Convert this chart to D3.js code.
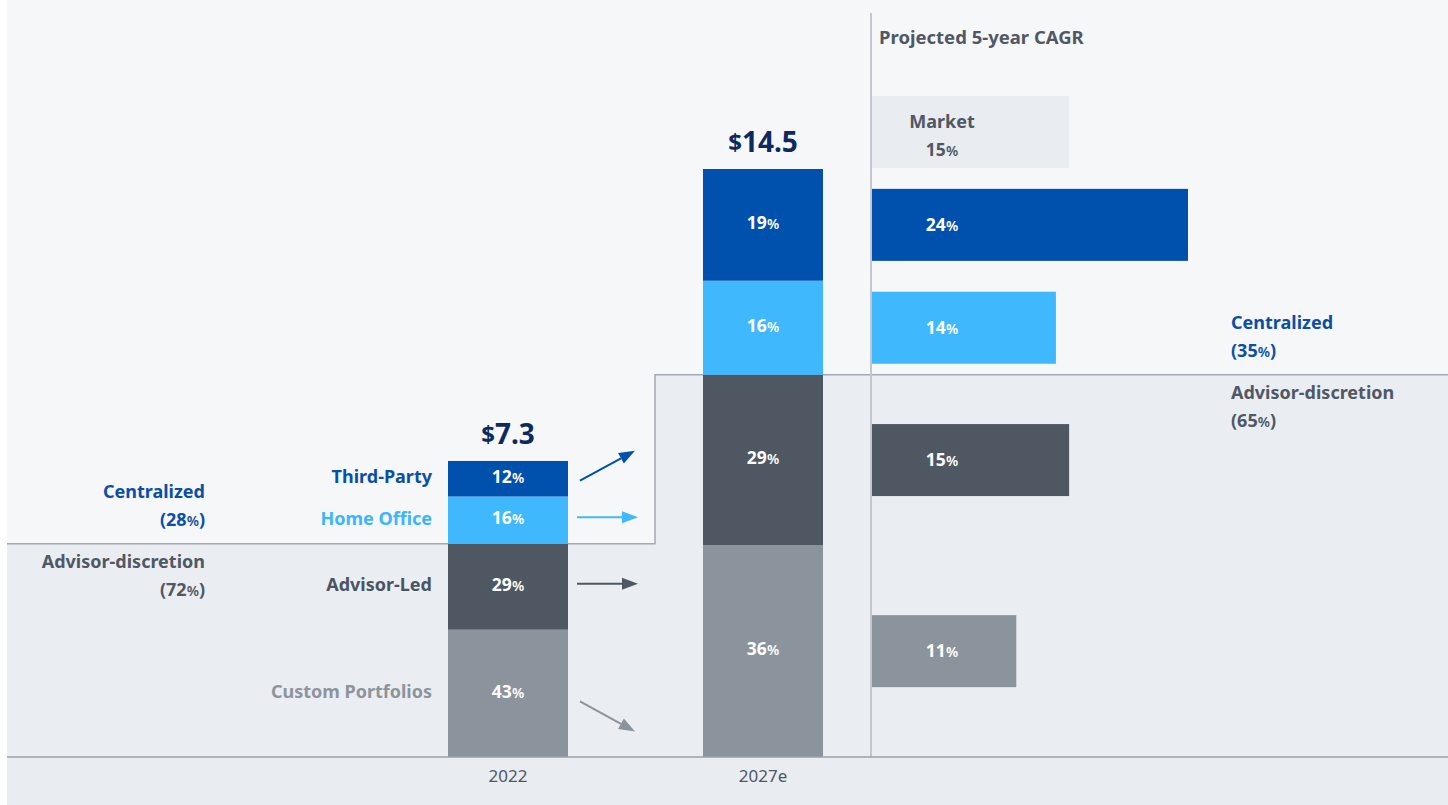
<!DOCTYPE html>
<html><head><meta charset="utf-8">
<script src="https://cdn.jsdelivr.net/npm/d3@7"></script>
<style>
html,body{margin:0;padding:0;background:#ffffff;}
svg{display:block;font-family:"Noto Sans",sans-serif;}
</style></head>
<body><svg id="chart" width="1448" height="805"></svg>
<script>
// ---- data ----
const years = ["2022", "2027e"];
const totals = [7.3, 14.5];
const totalLabels = ["7.3", "14.5"];
const segments = ["Custom Portfolios", "Advisor-Led", "Home Office", "Third-Party"]; // bottom to top
const share2022 = [43, 29, 16, 12];
const share2027 = [36, 29, 16, 19];
const cagr = [11, 15, 14, 24];
const marketCagr = 15;
const groupNames = ["Advisor-discretion", "Centralized"];
const groupMembers = [[0, 1], [2, 3]];
const chartTitle = "Projected 5-year CAGR";

const segColors = ["#8b939c", "#4f5862", "#40b8fd", "#0050ad"];
const labelColors = ["#8d949c", "#4b5560", "#3db5fb", "#0b4ea6"];
const groupColors = ["#4f5864", "#0b4ea6"];

const svg = d3.select("#chart");
const W = 1448, H = 805;
const left = 7, base = 757;

const x = d3.scaleBand().domain(years).range([448, 823]).paddingInner(0.5294);
const y = d3.scaleLinear().domain([0, 14.5]).range([base, 169]);
const xc = d3.scaleLinear().domain([0, 24]).range([871, 1188]);

const shares = [share2022, share2027];
const stacks = years.map((yr, i) => {
  let acc = 0;
  return segments.map((s, j) => {
    const v = totals[i] * shares[i][j] / 100;
    const d = {year: yr, seg: s, j, pct: shares[i][j], y0: acc, y1: acc + v};
    acc += v;
    return d;
  });
});
const centY = d => (y(d.y0) + y(d.y1)) / 2;

// ---- backgrounds ----
svg.append("rect").attr("x", left).attr("y", 0).attr("width", W - left).attr("height", H).attr("fill", "#f6f7f9");
const split1 = y(stacks[0][1].y1), split2 = y(stacks[1][1].y1);
const stepX = x("2027e") - 48;
svg.append("path")
  .attr("d", `M${left},${split1}H${stepX}V${split2}H${W}V${base}H${left}Z`)
  .attr("fill", "#eaedf2");
svg.append("rect").attr("x", left).attr("y", base).attr("width", W - left).attr("height", H - base).attr("fill", "#e9ecf1");
svg.append("path")
  .attr("d", `M${left},${split1}H${stepX}V${split2}H${W}`)
  .attr("fill", "none").attr("stroke", "#a3a9b0").attr("stroke-width", 1.5);

// ---- helpers ----
const pctText = (sel, v, smallSize) => {
  sel.append("tspan").text(v);
  sel.append("tspan").attr("font-size", smallSize).attr("font-weight", 600).text("%");
};

// ---- stacked bars ----
stacks.forEach((st, i) => {
  const g = svg.append("g");
  g.selectAll("rect").data(st).join("rect")
    .attr("x", x(years[i])).attr("width", x.bandwidth())
    .attr("y", d => y(d.y1)).attr("height", d => y(d.y0) - y(d.y1))
    .attr("fill", d => segColors[d.j]);
  g.selectAll("text").data(st).join("text")
    .attr("x", x(years[i]) + x.bandwidth() / 2)
    .attr("y", d => centY(d) - 2).attr("dy", "0.36em")
    .attr("text-anchor", "middle").attr("fill", "#fff")
    .attr("font-size", 17.5).attr("font-weight", 700)
    .each(function(d) { pctText(d3.select(this), d.pct, 14); });
  const t = svg.append("text")
    .attr("x", x(years[i]) + x.bandwidth() / 2).attr("y", y(totals[i]) - 17)
    .attr("text-anchor", "middle").attr("fill", "#0d2a5e")
    .attr("font-size", 28).attr("font-weight", 700);
  t.append("tspan").attr("font-size", 24).attr("dy", -1).text("$");
  t.append("tspan").attr("dy", 1).text(totalLabels[i]);
});

// segment labels left of 2022 bar
svg.append("g").selectAll("text").data(stacks[0]).join("text")
  .attr("x", x("2022") - 16).attr("y", d => centY(d) - 2).attr("dy", "0.36em")
  .attr("text-anchor", "end").attr("fill", d => labelColors[d.j])
  .attr("font-size", 18).attr("font-weight", 700)
  .text(d => d.seg);

// arrows between bars
const ax0 = x("2022") + x.bandwidth() + 12;
const ax1 = x("2027e") - 68;
stacks[0].forEach((d, j) => {
  const change = share2027[j] - share2022[j];
  const c = centY(d) - 3;
  const y0 = change > 0 ? c + 5 : (change < 0 ? c + 11 : c);
  const y1 = y0 - change * 4.3;
  const xs = change === 0 ? ax0 - 3 : ax0;
  const xe = change === 0 ? ax1 + 3 : ax1;
  const ang = Math.atan2(y1 - y0, xe - xs);
  const hl = 16, hw = 6;
  const bx = xe - hl * Math.cos(ang), by = y1 - hl * Math.sin(ang);
  const col = segColors[j];
  svg.append("line").attr("x1", xs).attr("y1", y0).attr("x2", bx).attr("y2", by)
    .attr("stroke", col).attr("stroke-width", 2);
  const px = -Math.sin(ang), py = Math.cos(ang);
  svg.append("path")
    .attr("d", `M${xe},${y1}L${bx + px * hw},${by + py * hw}L${bx - px * hw},${by - py * hw}Z`)
    .attr("fill", col);
});

// group labels
const groupLabel = (xPos, anchor, splitY, shareArr) => {
  groupNames.forEach((name, k) => {
    const pct = d3.sum(groupMembers[k], m => shareArr[m]);
    const baseY = k === 1 ? splitY - 52 : splitY + 18;
    svg.append("text").attr("x", xPos).attr("y", baseY).attr("dy", "0.36em")
      .attr("text-anchor", anchor).attr("fill", groupColors[k])
      .attr("font-size", 18).attr("font-weight", 700).text(name);
    const t2 = svg.append("text").attr("x", xPos).attr("y", baseY + 28).attr("dy", "0.36em")
      .attr("text-anchor", anchor).attr("fill", groupColors[k])
      .attr("font-size", 18).attr("font-weight", 700);
    t2.append("tspan").text("(" + pct);
    t2.append("tspan").attr("font-size", 14).attr("font-weight", 600).text("%");
    t2.append("tspan").text(")");
  });
};
groupLabel(205, "end", split1, share2022);
groupLabel(1231, "start", split2, share2027);

// ---- CAGR bars ----
const barH = 72;
const cg = svg.append("g");
cg.selectAll("rect").data(stacks[1]).join("rect")
  .attr("x", xc(0)).attr("width", d => xc(cagr[d.j]) - xc(0))
  .attr("y", d => centY(d) - barH / 2).attr("height", barH)
  .attr("fill", d => segColors[d.j]);
cg.selectAll("text").data(stacks[1]).join("text")
  .attr("x", xc(0) + 71).attr("y", d => centY(d)).attr("dy", "0.36em")
  .attr("text-anchor", "middle").attr("fill", "#fff")
  .attr("font-size", 17.5).attr("font-weight", 700)
  .each(function(d) { pctText(d3.select(this), cagr[d.j], 14); });
const mTop = y(14.5) - 1 - barH;
svg.append("rect").attr("x", xc(0)).attr("y", mTop).attr("width", xc(marketCagr) - xc(0)).attr("height", barH)
  .attr("fill", "#e9ecf0");
svg.append("text").attr("x", xc(0) + 71).attr("y", mTop + 26).attr("dy", "0.36em")
  .attr("text-anchor", "middle").attr("fill", "#4f5864").attr("font-size", 18).attr("font-weight", 700).text("Market");
const mt = svg.append("text").attr("x", xc(0) + 71).attr("y", mTop + 54).attr("dy", "0.36em")
  .attr("text-anchor", "middle").attr("fill", "#4f5864").attr("font-size", 17.5).attr("font-weight", 700);
pctText(mt, marketCagr, 14);

// vertical divider
svg.append("line").attr("x1", xc(0)).attr("x2", xc(0)).attr("y1", 13).attr("y2", base)
  .attr("stroke", "#c3c7cd").attr("stroke-width", 2);

// title
svg.append("text").attr("x", 879).attr("y", 37).attr("dy", "0.36em")
  .attr("fill", "#4f5864").attr("font-size", 18.5).attr("font-weight", 700).text(chartTitle);

// ---- x axis ----
const axis = svg.append("g").attr("transform", `translate(0,${base})`)
  .call(d3.axisBottom(x).tickSize(0).tickPadding(13));
axis.select(".domain").remove();
axis.selectAll("text").attr("font-family", "Noto Sans, sans-serif").attr("font-size", 17).attr("fill", "#4f5864");
svg.append("line").attr("x1", left).attr("x2", W).attr("y1", base).attr("y2", base)
  .attr("stroke", "#9aa0a8").attr("stroke-width", 1.5);
</script></body></html>
